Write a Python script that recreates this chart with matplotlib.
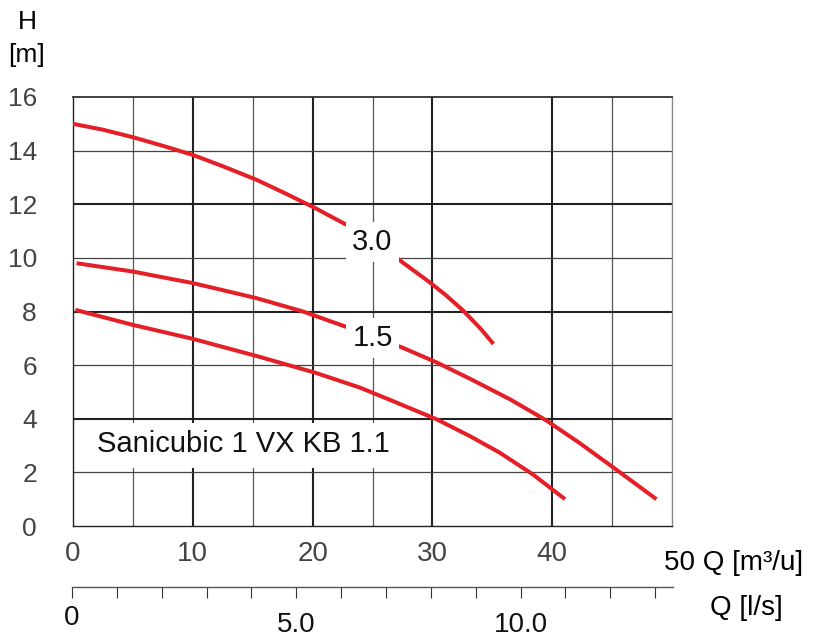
import matplotlib
matplotlib.use("Agg")
import matplotlib.pyplot as plt
from matplotlib.patches import Rectangle
from matplotlib.transforms import blended_transform_factory

plt.rcParams['font.family'] = ['Liberation Sans', 'DejaVu Sans']

# Pump curves: flow Q [m3/h] vs head H [m]
q_30 = [0.0, 2.5, 5.0, 7.5, 10.0, 12.55, 15.33, 17.84, 20.2, 23.1, 27.15, 29.8, 31.2, 32.6, 34.0, 35.1]
h_30 = [15.0, 14.78, 14.50, 14.18, 13.84, 13.41, 12.91, 12.38, 11.86, 11.17, 9.95, 9.08, 8.58, 8.02, 7.37, 6.79]

q_15 = [0.3, 5.0, 10.0, 15.3, 19.2, 23.1, 27.4, 30.35, 33.1, 36.5, 39.5, 42.3, 45.2, 48.7]
h_15 = [9.80, 9.49, 9.06, 8.50, 8.0, 7.38, 6.67, 6.10, 5.50, 4.72, 3.94, 3.09, 2.15, 1.0]

q_11 = [0.2, 5.0, 10.0, 15.4, 20.2, 23.96, 26.7, 30.35, 33.1, 35.6, 38.4, 41.07]
h_11 = [8.06, 7.50, 6.98, 6.33, 5.72, 5.16, 4.66, 3.98, 3.36, 2.74, 1.92, 1.0]

curve_labels = ["3.0", "1.5"]
label_q = [25.0, 25.0]
label_h = [10.6, 7.0]

model_name = "Sanicubic 1 VX KB 1.1"

x_ticks = [0, 10, 20, 30, 40]
y_ticks = [0, 2, 4, 6, 8, 10, 12, 14, 16]
heavy_x = [10, 20, 30, 40]
light_x = [5, 15, 25, 45]
heavy_y = [4, 8, 12]
light_y = [2, 6, 10, 14]

ls_ticks = list(range(14))
ls_labels = {5: "5.0", 10: "10.0"}

RED = '#e51f27'
W, H = 816, 643

fig = plt.figure(figsize=(W / 100, H / 100), dpi=100)
ax = fig.add_axes([73 / W, 1 - 526 / H, 599 / W, 429 / H])
ax.set_xlim(0, 50)
ax.set_ylim(0, 16)

# grid
for x in heavy_x:
    ax.axvline(x, color='#222222', lw=1.5, zorder=1)
for x in light_x:
    ax.axvline(x, color='#555555', lw=0.9, zorder=1)
for y in heavy_y:
    ax.axhline(y, color='#222222', lw=1.5, zorder=1)
for y in light_y:
    ax.axhline(y, color='#444444', lw=0.9, zorder=1)

for side, lw, col in [('top', 1.3, '#333333'), ('left', 1.0, '#222222'),
                      ('bottom', 1.0, '#222222'), ('right', 1.0, '#888888')]:
    ax.spines[side].set_linewidth(lw)
    ax.spines[side].set_color(col)
    ax.spines[side].set_zorder(2.5)

# white panel behind the model name
ax.add_patch(Rectangle((0, 2.15), 26.7, 1.68, facecolor='white',
                       edgecolor='none', zorder=2))
ax.text(2.0, 3.05, model_name, fontsize=21, color='#111111',
        ha='left', va='center', zorder=5)

for q, h in [(q_30, h_30), (q_15, h_15), (q_11, h_11)]:
    ax.plot(q, h, color=RED, lw=2.9, solid_capstyle='butt',
            solid_joinstyle='round', zorder=3)

for txt, q, h in zip(curve_labels, label_q, label_h):
    ax.text(q, h, txt, fontsize=21, color='#111111', ha='center', va='center',
            zorder=5, bbox=dict(facecolor='white', edgecolor='none', pad=4.5))

ax.set_xticks(x_ticks)
ax.set_xticklabels([str(v) for v in x_ticks])
ax.set_yticks(y_ticks)
ax.set_yticklabels([str(v) for v in y_ticks])
ax.tick_params(axis='x', length=0, pad=11, labelsize=20, labelcolor='#444444')
ax.tick_params(axis='y', length=0, pad=26, labelsize=19, labelcolor='#444444')

# secondary flow scale in l/s
ax2 = fig.add_axes([72 / W, 1 - 587 / H, 601 / W, 0.0001])
ax2.set_xlim(0, 13.4)
ax2.set_ylim(0, 1)
for side in ['top', 'left', 'right']:
    ax2.spines[side].set_visible(False)
ax2.spines['bottom'].set_color('#555555')
ax2.spines['bottom'].set_linewidth(1.0)
ax2.patch.set_visible(False)
ax2.set_yticks([])
ax2.set_xticks(ls_ticks)
ax2.set_xticklabels([ls_labels.get(t, "") for t in ls_ticks])
ax2.tick_params(axis='x', direction='out', length=8, width=0.8, color='#333333',
                pad=10, labelsize=20, labelcolor='#111111')
ax2.text(ls_ticks[0], 1 - 618 / H, "0",
         transform=blended_transform_factory(ax2.transData, fig.transFigure),
         fontsize=20, ha='center', va='center', color='#111111')

# axis titles
fig.text(27 / W, 1 - 22 / H, "H", fontsize=19, ha='center', va='center')
fig.text(26 / W, 1 - 55 / H, "[m]", fontsize=19, ha='center', va='center')
fig.text(664 / W, 1 - 563 / H, "50 Q [m³/u]", fontsize=20, ha='left', va='center')
fig.text(746 / W, 1 - 608 / H, "Q [l/s]", fontsize=20, ha='center', va='center')

fig.savefig("out.png", dpi=100)
